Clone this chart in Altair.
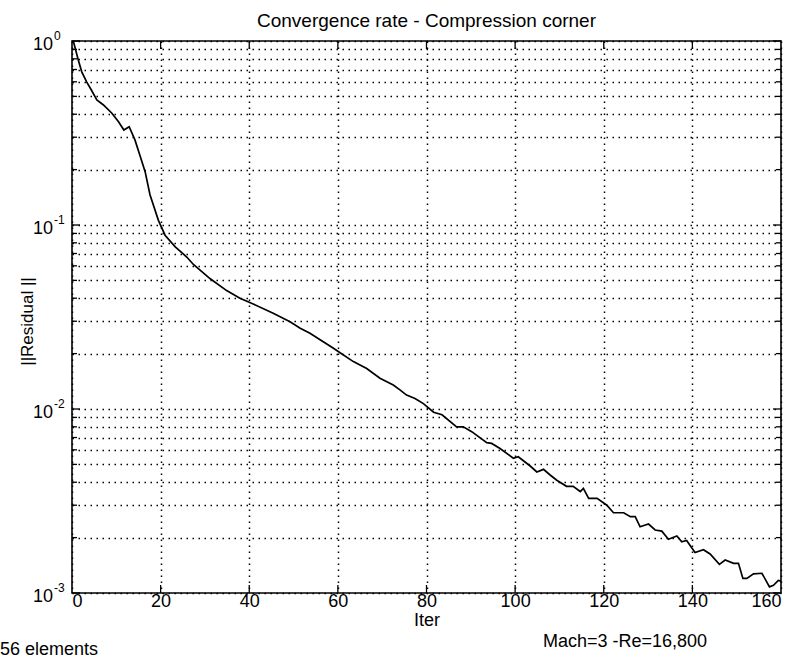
import altair as alt
import pandas as pd

# ---- data ----
iters = [0.3, 1.4, 2.2, 3.3, 4.4, 5.6, 7.1, 9.0, 10.5, 11.7, 12.9, 14.2, 15.3, 16.5,
         17.6, 19.5, 21.0, 23.3, 25.9, 27.4, 31.2, 34.9, 37.9, 40.9, 45.4, 49.2,
         51.5, 53.7, 56.7, 59.0, 60.5, 63.5, 66.5, 69.5, 72.5, 74.0, 75.5, 77.4,
         79.3, 81.6, 83.5, 86.8, 88.3, 90.2, 93.6, 94.7, 96.6, 99.6, 100.7, 103.4,
         104.9, 106.4, 107.9, 109.4, 111.6, 113.1, 114.7, 115.4, 116.6, 118.5,
         120.7, 122.2, 124.5, 126.0, 127.1, 128.2, 130.1, 131.6, 133.1, 134.6,
         136.5, 137.6, 138.7, 140.6, 142.5, 144.0, 146.1, 147.4, 149.3, 150.4,
         151.4, 152.3, 153.8, 155.7, 157.4, 158.3, 159.4, 160.0]
residuals = [1.0, 0.79, 0.68, 0.60, 0.54, 0.478, 0.449, 0.405, 0.364, 0.328, 0.342,
             0.29, 0.24, 0.195, 0.146, 0.106, 0.088, 0.076, 0.067, 0.061, 0.051,
             0.044, 0.040, 0.0372, 0.0331, 0.0298, 0.0275, 0.0258, 0.0232, 0.0214,
             0.0202, 0.0181, 0.0166, 0.0147, 0.0135, 0.0127, 0.0119, 0.0114, 0.0107,
             0.0096, 0.0093, 0.0080, 0.0080, 0.00753, 0.00656, 0.0065, 0.0061,
             0.0054, 0.0055, 0.0049, 0.00455, 0.0047, 0.00438, 0.0041, 0.0038,
             0.0038, 0.00356, 0.0037, 0.00327, 0.00327, 0.0030, 0.00273, 0.00273,
             0.0026, 0.0026, 0.00229, 0.00237, 0.0022, 0.00217, 0.00196, 0.00204,
             0.0019, 0.00193, 0.00166, 0.00172, 0.00163, 0.00143, 0.00151, 0.00145,
             0.00145, 0.0012, 0.0012, 0.00127, 0.00128, 0.00108, 0.00110, 0.00117,
             0.00116]

x_ticks = [0, 20, 40, 60, 80, 100, 120, 140, 160]
inner_x_ticks = [20, 40, 60, 80, 100, 120, 140]
decades = [1.0, 0.1, 0.01, 0.001]
exponents = ["0", "-1", "-2", "-3"]
minor_vals = [0.001, 0.002, 0.003, 0.004, 0.005, 0.006, 0.007, 0.008, 0.009,
              0.01, 0.02, 0.03, 0.04, 0.05, 0.06, 0.07, 0.08, 0.09,
              0.1, 0.2, 0.3, 0.4, 0.5, 0.6, 0.7, 0.8, 0.9, 1.0]
minor_only = [v for v in minor_vals if v not in decades]

title_text = "Convergence rate - Compression corner"
x_title = "Iter"
y_title = "||Residual ||"
note_right = "Mach=3 -Re=16,800"
note_left = "56 elements"

FONT = "Liberation Sans"
W, H = 709, 552

df = pd.DataFrame({"iter": iters, "res": residuals})
df_dec = pd.DataFrame({"res": decades, "e": exponents})
df_minor = pd.DataFrame({"res": minor_only})
df_xt = pd.DataFrame({"iter": inner_x_ticks})

xscale = alt.Scale(domain=[0, 160], nice=False, zero=False)
yscale = alt.Scale(type="log", domain=[0.001, 1], nice=False)

GRID = dict(grid=True, gridColor="black", gridDash=[1.5, 4.5], gridWidth=1.5, gridOpacity=1)

line = alt.Chart(df).mark_line(color="black", strokeWidth=1.7, clip=True).encode(
    x=alt.X("iter:Q", scale=xscale,
            axis=alt.Axis(values=x_ticks, title=x_title, ticks=False,
                          tickSize=0, domain=False, labelPadding=13,
                          labelBaseline="alphabetic", labelFontSize=18,
                          labelFont=FONT, labelColor="black",
                          titleFontSize=18, titleFont=FONT, titleFontWeight="normal",
                          titleColor="black", titleY=32, titleBaseline="alphabetic",
                          **GRID)),
    y=alt.Y("res:Q", scale=yscale,
            axis=alt.Axis(values=minor_vals, labels=False, ticks=False, tickSize=0,
                          domain=False, title=y_title,
                          titleX=-40, titleY=280, titleAngle=270,
                          titleBaseline="alphabetic", titleAlign="center",
                          titleFontSize=17, titleFont=FONT,
                          titleFontWeight="normal", titleColor="black", **GRID)),
)

# inward ticks
y_major_left = alt.Chart(df_dec).mark_rule(color="black", strokeWidth=1.3).encode(
    y="res:Q", x=alt.value(0), x2=alt.value(8))
y_major_right = alt.Chart(df_dec).mark_rule(color="black", strokeWidth=1.3).encode(
    y="res:Q", x=alt.value(W - 8), x2=alt.value(W))
y_minor_left = alt.Chart(df_minor).mark_rule(color="black", strokeWidth=1.3).encode(
    y="res:Q", x=alt.value(0), x2=alt.value(5))
y_minor_right = alt.Chart(df_minor).mark_rule(color="black", strokeWidth=1.3).encode(
    y="res:Q", x=alt.value(W - 5), x2=alt.value(W))
x_bottom = alt.Chart(df_xt).mark_rule(color="black", strokeWidth=1.3).encode(
    x="iter:Q", y=alt.value(H - 8), y2=alt.value(H))
x_top = alt.Chart(df_xt).mark_rule(color="black", strokeWidth=1.3).encode(
    x="iter:Q", y=alt.value(0), y2=alt.value(8))

# y tick labels 10^k
ten = alt.Chart(df_dec).mark_text(align="right", baseline="alphabetic", dy=8.5,
                                  fontSize=18, font=FONT, color="black").encode(
    y="res:Q", x=alt.value(-19), text=alt.value("10"))
expo = alt.Chart(df_dec).mark_text(align="left", baseline="alphabetic", dy=-1,
                                   fontSize=12, font=FONT, color="black").encode(
    y="res:Q", x=alt.value(-18), text="e:N")

title_mark = alt.Chart(pd.DataFrame({"t": [title_text]})).mark_text(
    align="center", baseline="alphabetic", fontSize=19, font=FONT, color="black").encode(
    x=alt.value(W / 2), y=alt.value(-14), text="t:N")
notes_r = alt.Chart(pd.DataFrame({"t": [note_right]})).mark_text(
    align="left", baseline="alphabetic", fontSize=18, font=FONT, color="black").encode(
    x=alt.value(471), y=alt.value(606), text="t:N")
notes_l = alt.Chart(pd.DataFrame({"t": [note_left]})).mark_text(
    align="left", baseline="alphabetic", fontSize=18, font=FONT, color="black").encode(
    x=alt.value(-72), y=alt.value(614), text="t:N")

chart = alt.layer(
    line, y_major_left, y_major_right, y_minor_left, y_minor_right,
    x_bottom, x_top, ten, expo, title_mark, notes_r, notes_l
).properties(
    width=W, height=H,
    autosize=alt.AutoSizeParams(type="none"),
    padding={"left": 72, "top": 41, "right": 19, "bottom": 73},
    background="white",
).configure_view(
    stroke="black", strokeWidth=1.6
)

chart.save("out.html", embed_options={"renderer": "svg", "actions": False})
